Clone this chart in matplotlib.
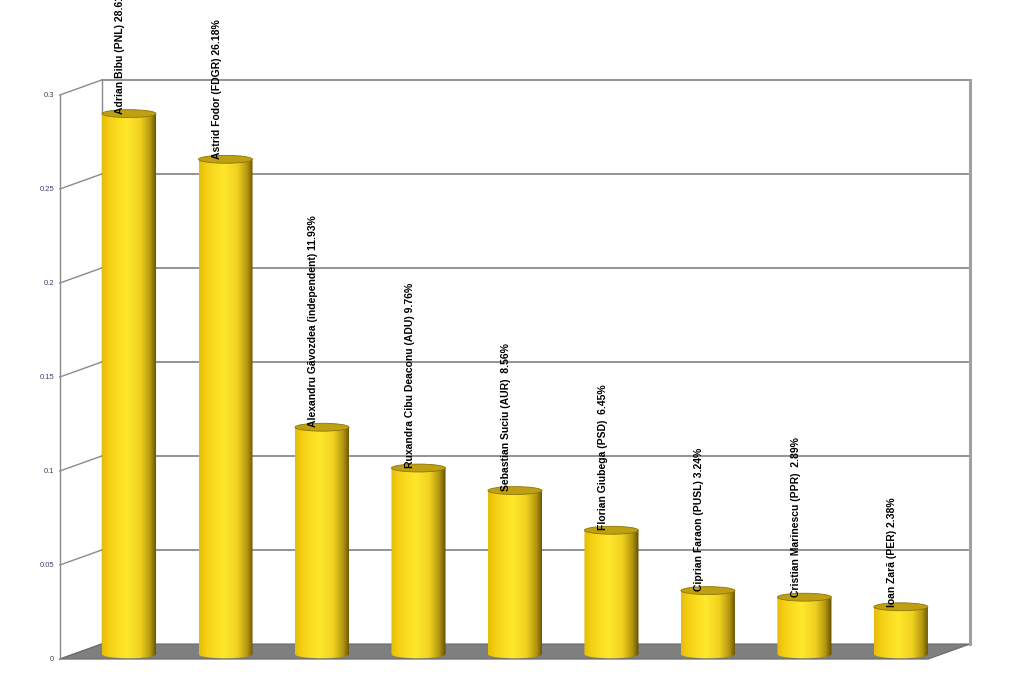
import matplotlib
matplotlib.use('Agg')
import matplotlib.pyplot as plt
import numpy as np
from matplotlib.colors import LinearSegmentedColormap
from matplotlib.patches import Polygon, Ellipse

# candidate labels and vote shares (fraction)
labels = ['Adrian Bibu (PNL) 28.61%',
          'Astrid Fodor (FDGR) 26.18%',
          'Alexandru Găvozdea (independent) 11.93%',
          'Ruxandra Cibu Deaconu (ADU) 9.76%',
          'Sebastian Suciu (AUR)  8.56%',
          'Florian Giubega (PSD)  6.45%',
          'Ciprian Faraon (PUSL) 3.24%',
          'Cristian Marinescu (PPR)  2.89%',
          'Ioan Zară (PER) 2.38%']
values = [0.2861, 0.2618, 0.1193, 0.0976, 0.0856, 0.0645, 0.0324, 0.0289, 0.0238]
ticks = [0, 0.05, 0.1, 0.15, 0.2, 0.25, 0.3]
tick_labels = ['0', '0.05', '0.1', '0.15', '0.2', '0.25', '0.3']

plt.rcParams['font.family'] = ['Liberation Sans', 'DejaVu Sans']

fig = plt.figure(figsize=(10.24, 6.83), dpi=100)
ax = fig.add_axes([0.0789, 0.0461, 0.848, 0.8258])
ax.set_xlim(-0.5, len(values) - 0.5)
ax.set_ylim(0, 0.3)
ax.axis('off')

# depth offset of back / front planes in data units
ddx = 0.2176
ddy = 0.004
x0, x1 = -0.5, len(values) - 0.5
grid_c = '#8a8a8a'

# floor
floor = Polygon([(x0 - ddx, -ddy), (x1 - ddx, -ddy), (x1 + ddx, ddy), (x0 + ddx, ddy)],
                closed=True, facecolor='#7f7f7f', edgecolor='#6a6a6a', lw=0.8,
                clip_on=False, zorder=1)
ax.add_patch(floor)

# back wall grid + left wall obliques
for t, tl in zip(ticks, tick_labels):
    if t > 0:
        ax.plot([x0 + ddx, x1 + ddx], [t + ddy, t + ddy], color=grid_c, lw=1.3,
                clip_on=False, zorder=0.5)
    ax.plot([x0 - ddx, x0 + ddx], [t - ddy, t + ddy], color=grid_c, lw=1.0,
            clip_on=False, zorder=0.5)
    ax.text(x0 - ddx - 0.06, t - ddy, tl, ha='right', va='center', fontsize=5.5,
            color='#3a4466')

top = ticks[-1]
ax.plot([x0 - ddx, x0 - ddx], [-ddy, top - ddy], color=grid_c, lw=1.0, clip_on=False)
ax.plot([x0 + ddx, x0 + ddx], [ddy, top + ddy], color=grid_c, lw=1.0, clip_on=False)
ax.plot([x1 + ddx, x1 + ddx], [ddy, top + ddy], color='#a0a0a0', lw=2.2, clip_on=False)

# cylinder shading
body_cmap = LinearSegmentedColormap.from_list(
    'cyl', [(0.0, '#e6bc08'), (0.15, '#f6d216'), (0.45, '#ffe82c'),
            (0.7, '#f0d020'), (0.88, '#b49610'), (1.0, '#5e4c00')])
grad = np.linspace(0, 1, 256).reshape(1, -1)

w = 0.56
eh = 0.0042
t_arc = np.linspace(np.pi, 2 * np.pi, 40)

for i, (v, lab) in enumerate(zip(values, labels)):
    xl, xr = i - w / 2, i + w / 2
    pts = [(xl, v)] + [(i + w / 2 * np.cos(a), -0.0015 + eh / 2 * np.sin(a)) for a in t_arc] + [(xr, v)]
    clip = Polygon(pts, closed=True, transform=ax.transData, facecolor='none',
                   edgecolor='none')
    ax.add_patch(clip)
    im = ax.imshow(grad, cmap=body_cmap, extent=(xl, xr, -0.005, v), aspect='auto',
                   zorder=3, interpolation='bilinear')
    im.set_clip_path(clip)
    im.set_clip_box(fig.bbox)
    ax.add_patch(Ellipse((i, v), w, eh, facecolor='#bea012', edgecolor='#8c7406',
                         lw=0.6, zorder=4, clip_on=False))
    ax.text(i - 0.09, v, lab, rotation=90, ha='center', va='bottom', fontsize=7.5,
            fontweight='bold', color='black', zorder=5, clip_on=False)

ax.set_xlim(-0.5, len(values) - 0.5)
ax.set_ylim(0, 0.3)

fig.savefig('out.png', dpi=100)
